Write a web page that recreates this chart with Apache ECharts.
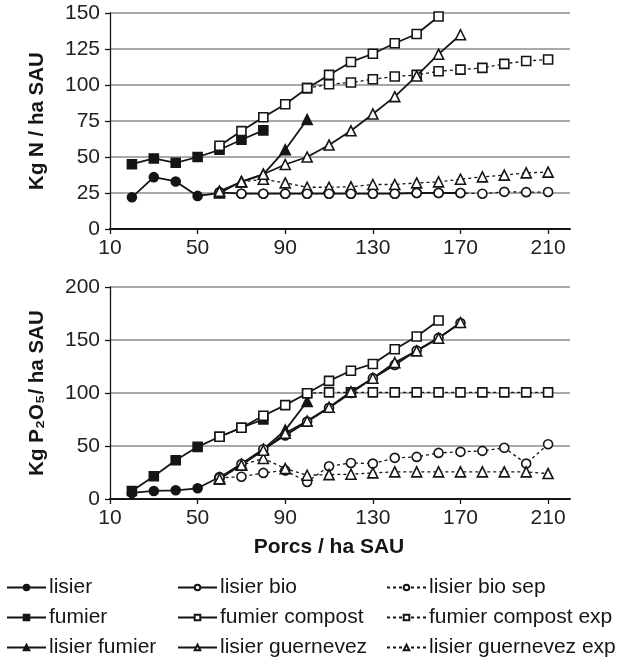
<!DOCTYPE html>
<html>
<head>
<meta charset="utf-8">
<script src="https://cdn.jsdelivr.net/npm/echarts@6/dist/echarts.min.js"></script>
<style>
  html, body { margin: 0; padding: 0; background: #fff; }
  #main { width: 617px; height: 663px; }
</style>
</head>
<body>
<div id="main"></div>
<script>
// porcs / ha SAU
var porcs = [20, 30, 40, 50, 60, 70, 80, 90, 100, 110, 120, 130, 140, 150, 160, 170, 180, 190, 200, 210];

// Kg N / ha SAU
var nLisier = [22, 36, 33, 23, 25, null, null, null, null, null, null, null, null, null, null, null, null, null, null, null];
var nFumier = [45, 49, 46, 50, 55, 62, 68.5, null, null, null, null, null, null, null, null, null, null, null, null, null];
var nLisierFumier = [null, null, null, null, 25, 33, 38, 55, 76, null, null, null, null, null, null, null, null, null, null, null];
var nLisierBio = [null, null, null, null, 25.5, 24.5, 24.5, 24.5, 24.5, 24.5, 24.5, 24.5, 24.5, 25, 25, 25, null, null, null, null];
var nLisierBioSep = [null, null, null, null, 25.5, 24.5, 24.5, 24.5, 24.5, 24.5, 24.5, 24.5, 24.5, 25, 25, 25, 24.5, 25.8, 25.6, 25.7];
var nFumierCompost = [null, null, null, null, 57.8, 68, 77.6, 86.6, 97.8, 107, 116, 121.7, 129, 135.4, 147.6, null, null, null, null, null];
var nFumierCompostExp = [null, null, null, null, null, null, null, null, 97.8, 100.5, 101.7, 104, 105.9, 107, 109.6, 110.7, 111.9, 114.7, 116.7, 117.7];
var nLisierGuernevez = [null, null, null, null, 26.2, 32.7, 38, 44.8, 50, 58.3, 68.2, 79.9, 91.9, 106.3, 121.4, 134.9, null, null, null, null];
var nLisierGuernevezExp = [null, null, null, null, 26.2, 32.7, 34.6, 32, 29, 29, 29.3, 30.9, 30.9, 32, 32.7, 34.6, 36.2, 37.4, 39, 39.5];

// Kg P2O5 / ha SAU
var pLisier = [5.7, 7.6, 8.2, 10.1, 20.8, null, null, null, null, null, null, null, null, null, null, null, null, null, null, null];
var pFumier = [7.6, 21.5, 36.6, 49.2, 58.7, 67.2, 75.1, null, null, null, null, null, null, null, null, null, null, null, null, null];
var pLisierFumier = [null, null, null, null, 20, 33, 47, 65, 92, null, null, null, null, null, null, null, null, null, null, null];
var pLisierBio = [null, null, null, null, 20, 33, 47, 60, 73, 86, 100, 114, 126.5, 140, 152, 166, null, null, null, null];
var pLisierBioSep = [null, null, null, null, 20, 21, 24.6, 27, 16.1, 30.9, 34, 33.4, 38.8, 39.7, 43.5, 44.5, 45.4, 48.3, 33.4, 51.7];
var pFumierCompost = [null, null, null, null, 58.7, 67.2, 78.5, 88.6, 99.7, 111.4, 121, 127.4, 141.3, 153.3, 168.4, null, null, null, null, null];
var pFumierCompostExp = [null, null, null, null, null, null, null, null, 99.7, 100.6, 100.6, 100.6, 100.6, 100.6, 100.6, 100.6, 100.6, 100.6, 100.6, 100.6];
var pLisierGuernevez = [null, null, null, null, 19, 32, 46, 62, 73.5, 86.5, 101.2, 113.9, 128.7, 139.7, 151.7, 166.5, null, null, null, null];
var pLisierGuernevezExp = [null, null, null, null, 19, 32, 38.2, 28.7, 22.4, 23, 23.4, 24.6, 25.6, 25.6, 25.6, 25.6, 25.6, 25.6, 25.6, 24];

var seriesNames = ["lisier", "fumier", "lisier fumier", "lisier bio", "fumier compost", "lisier guernevez",
  "lisier bio sep", "fumier compost exp", "lisier guernevez exp"];

var ink = "#151515";
var font = "Liberation Sans, Arial, sans-serif";

// symbol, filled or open, dotted or not
var looks = {
  "lisier": ["circle", true, false],
  "fumier": ["rect", true, false],
  "lisier fumier": ["triangle", true, false],
  "lisier bio": ["circle", false, false],
  "fumier compost": ["rect", false, false],
  "lisier guernevez": ["triangle", false, false],
  "lisier bio sep": ["circle", false, true],
  "fumier compost exp": ["rect", false, true],
  "lisier guernevez exp": ["triangle", false, true]
};

function pairs(values) {
  var out = [];
  for (var i = 0; i < porcs.length; i++) {
    if (values[i] != null) out.push([porcs[i], values[i]]);
  }
  return out;
}

function makeSeries(name, values, idx) {
  var l = looks[name];
  return {
    name: name,
    type: "line",
    xAxisIndex: idx,
    yAxisIndex: idx,
    data: pairs(values),
    symbol: l[0],
    symbolSize: l[0] === "triangle" ? 10 : 9,
    showAllSymbol: true,
    z: l[2] ? 2 : 3,
    lineStyle: { color: ink, width: l[2] ? 1.3 : 1.8, type: l[2] ? [3, 3] : "solid" },
    itemStyle: { color: l[1] ? ink : "#fff", borderColor: ink, borderWidth: 1.6 },
    emphasis: { disabled: true },
    animation: false
  };
}

var nSets = [nLisier, nFumier, nLisierFumier, nLisierBio, nFumierCompost, nLisierGuernevez, nLisierBioSep, nFumierCompostExp, nLisierGuernevezExp];
var pSets = [pLisier, pFumier, pLisierFumier, pLisierBio, pFumierCompost, pLisierGuernevez, pLisierBioSep, pFumierCompostExp, pLisierGuernevezExp];

var series = [];
// dotted ones first so the solid lines sit on top
[6, 7, 8, 0, 1, 2, 3, 4, 5].forEach(function (k) {
  series.push(makeSeries(seriesNames[k], nSets[k], 0));
  series.push(makeSeries(seriesNames[k], pSets[k], 1));
});

function xAxis(idx, withName) {
  return {
    type: "value",
    gridIndex: idx,
    min: 10,
    max: 220,
    interval: 40,
    name: withName ? "Porcs / ha SAU" : "",
    nameLocation: "middle",
    nameGap: 38,
    nameTextStyle: { fontFamily: font, fontSize: 21, fontWeight: "bold", color: ink, padding: [0, 22, 0, 0] },
    axisLine: { show: true, onZero: false, lineStyle: { color: ink, width: 2 } },
    axisTick: { show: true, length: 5, lineStyle: { color: ink, width: 1.3 } },
    axisLabel: { showMaxLabel: false, margin: 9, fontFamily: font, fontSize: 21, color: "#222" },
    splitLine: { show: false }
  };
}

function yAxis(idx, max, step, name) {
  return {
    type: "value",
    gridIndex: idx,
    min: 0,
    max: max,
    interval: step,
    name: name,
    nameLocation: "middle",
    nameGap: 62,
    nameRotate: 90,
    nameTextStyle: { fontFamily: font, fontSize: 20.5, fontWeight: "bold", color: ink },
    axisLine: { show: true, lineStyle: { color: ink, width: 1.3 } },
    axisTick: { show: true, length: 5, lineStyle: { color: ink, width: 1.3 } },
    axisLabel: { margin: 10, fontFamily: font, fontSize: 21, color: "#222" },
    splitLine: { show: true, lineStyle: { color: "#a9a9a9", width: 2 } }
  };
}

function legend(left, names) {
  return {
    orient: "vertical",
    left: left,
    top: 577,
    padding: 0,
    data: names,
    itemWidth: 39,
    itemHeight: 7,
    itemGap: 9,
    selectedMode: false,
    textStyle: { fontFamily: font, fontSize: 21, color: ink, padding: [0, 0, 0, -2] }
  };
}

var chart = echarts.init(document.getElementById("main"), null, { renderer: "canvas" });

chart.setOption({
  backgroundColor: "#fff",
  animation: false,
  grid: [
    { left: 110, right: 47, top: 13, height: 216 },
    { left: 110, right: 47, top: 287, height: 212 }
  ],
  xAxis: [xAxis(0, false), xAxis(1, true)],
  yAxis: [
    yAxis(0, 150, 25, "Kg N / ha SAU"),
    yAxis(1, 200, 50, "Kg P\u2082O\u2085/ ha SAU")
  ],
  legend: [
    legend(6, ["lisier", "fumier", "lisier fumier"]),
    legend(177, ["lisier bio", "fumier compost", "lisier guernevez"]),
    legend(386, ["lisier bio sep", "fumier compost exp", "lisier guernevez exp"])
  ],
  series: series
});
</script>
</body>
</html>
